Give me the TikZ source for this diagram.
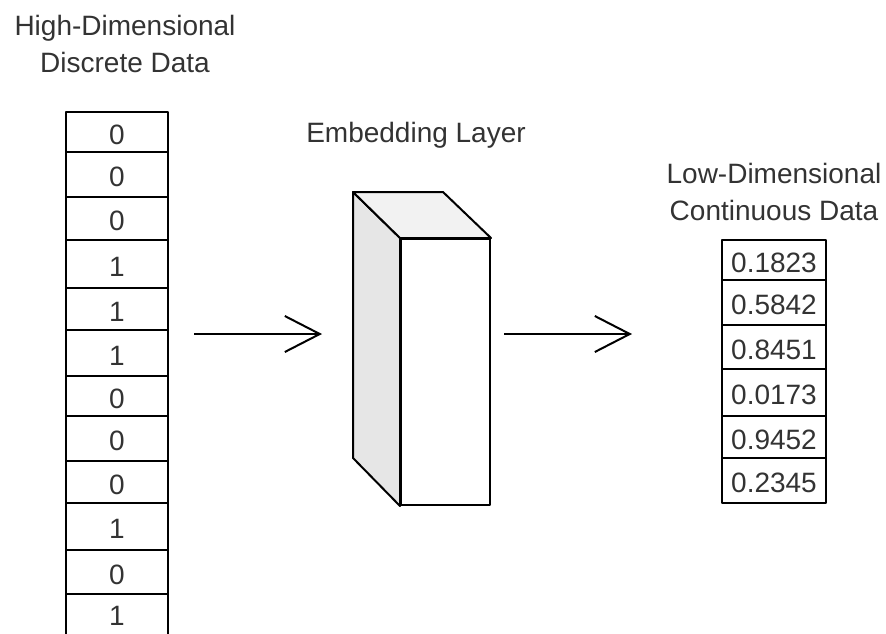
\documentclass[tikz,border=0pt]{standalone}
\usepackage{fontspec}
\setmainfont{Liberation Sans}
\usetikzlibrary{arrows.meta}
\definecolor{ink}{HTML}{333333}
\definecolor{sideface}{HTML}{E6E6E6}
\definecolor{topface}{HTML}{F2F2F2}
\tikzset{
  edge/.style={draw=black, line width=2pt, line join=round},
  txt/.style={text=ink, font=\fontsize{28}{37}\selectfont, inner sep=0pt},
  cell/.style={edge, txt, minimum width=#1, minimum height=0pt,
    text height=24pt, text depth=0pt},
  title/.style={txt, align=center},
  flow/.style={line width=2pt, draw=black,
    -{Straight Barb[length=35pt, width=36pt, line width=2pt]}},
}
% place a cell of a column: [extra options], name, centre x, width, top, bottom, text
\newcommand\colcell[7][]{%
  \node[cell=#4, minimum height={#6-#5}, #1] (#2) at (#3, {(#5+#6)/2}) {#7};}
\begin{document}
\begin{tikzpicture}[x=1pt, y=-1pt]
\path[use as bounding box] (0,0) rectangle (886,633);
\begin{scope}
\clip (0,0) rectangle (886,633);

% titles
\node[title, anchor=north] (hiTitle) at (125,15) {High-Dimensional\\Discrete Data};
\node[txt, anchor=base] (embTitle) at (416,142) {Embedding Layer};
\node[title, anchor=north] (loTitle) at (774,163) {Low-Dimensional\\Continuous Data};

% one-hot style input column (runs on past the lower edge)
\colcell{l1}{117}{102}{112}{152}{0}
\colcell{l2}{117}{102}{152}{197}{0}
\colcell{l3}{117}{102}{197}{240}{0}
\colcell{l4}{117}{102}{240}{288}{1}
\colcell{l5}{117}{102}{288}{330}{1}
\colcell{l6}{117}{102}{330}{376}{1}
\colcell{l7}{117}{102}{376}{416}{0}
\colcell{l8}{117}{102}{416}{461}{0}
\colcell{l9}{117}{102}{461}{503}{0}
\colcell{l10}{117}{102}{503}{550}{1}
\colcell{l11}{117}{102}{550}{594}{0}
\colcell[text height=20pt]{l12}{117}{102}{594}{637}{1}

% embedding block drawn as a box in perspective
\node[edge, fill=white, minimum width=89pt, minimum height=266pt, inner sep=0pt]
  (emb) at (445.5,372) {};
\coordinate (backTL) at (353,192);
\coordinate (backTR) at (443,192);
\coordinate (backBL) at (353,458);
\draw[edge, fill=sideface] (backTL) -- (emb.north west) -- (emb.south west) -- (backBL) -- cycle;
\draw[edge, fill=topface] (backTL) -- (backTR) -- (emb.north east) -- (emb.north west) -- cycle;

% dense output column
\colcell{r1}{774}{104}{240}{280}{0.1823}
\colcell{r2}{774}{104}{280}{325}{0.5842}
\colcell{r3}{774}{104}{325}{369}{0.8451}
\colcell{r4}{774}{104}{369}{416}{0.0173}
\colcell{r5}{774}{104}{416}{458}{0.9452}
\colcell{r6}{774}{104}{458}{503}{0.2345}

% arrows between the stages
\coordinate (inStart) at (194,334);
\coordinate (inEnd) at (322,334);
\coordinate (outStart) at (504,334);
\coordinate (outEnd) at (632,334);
\draw[flow] (inStart) -- (inEnd);
\draw[flow] (outStart) -- (outEnd);
\end{scope}
\end{tikzpicture}
\end{document}
